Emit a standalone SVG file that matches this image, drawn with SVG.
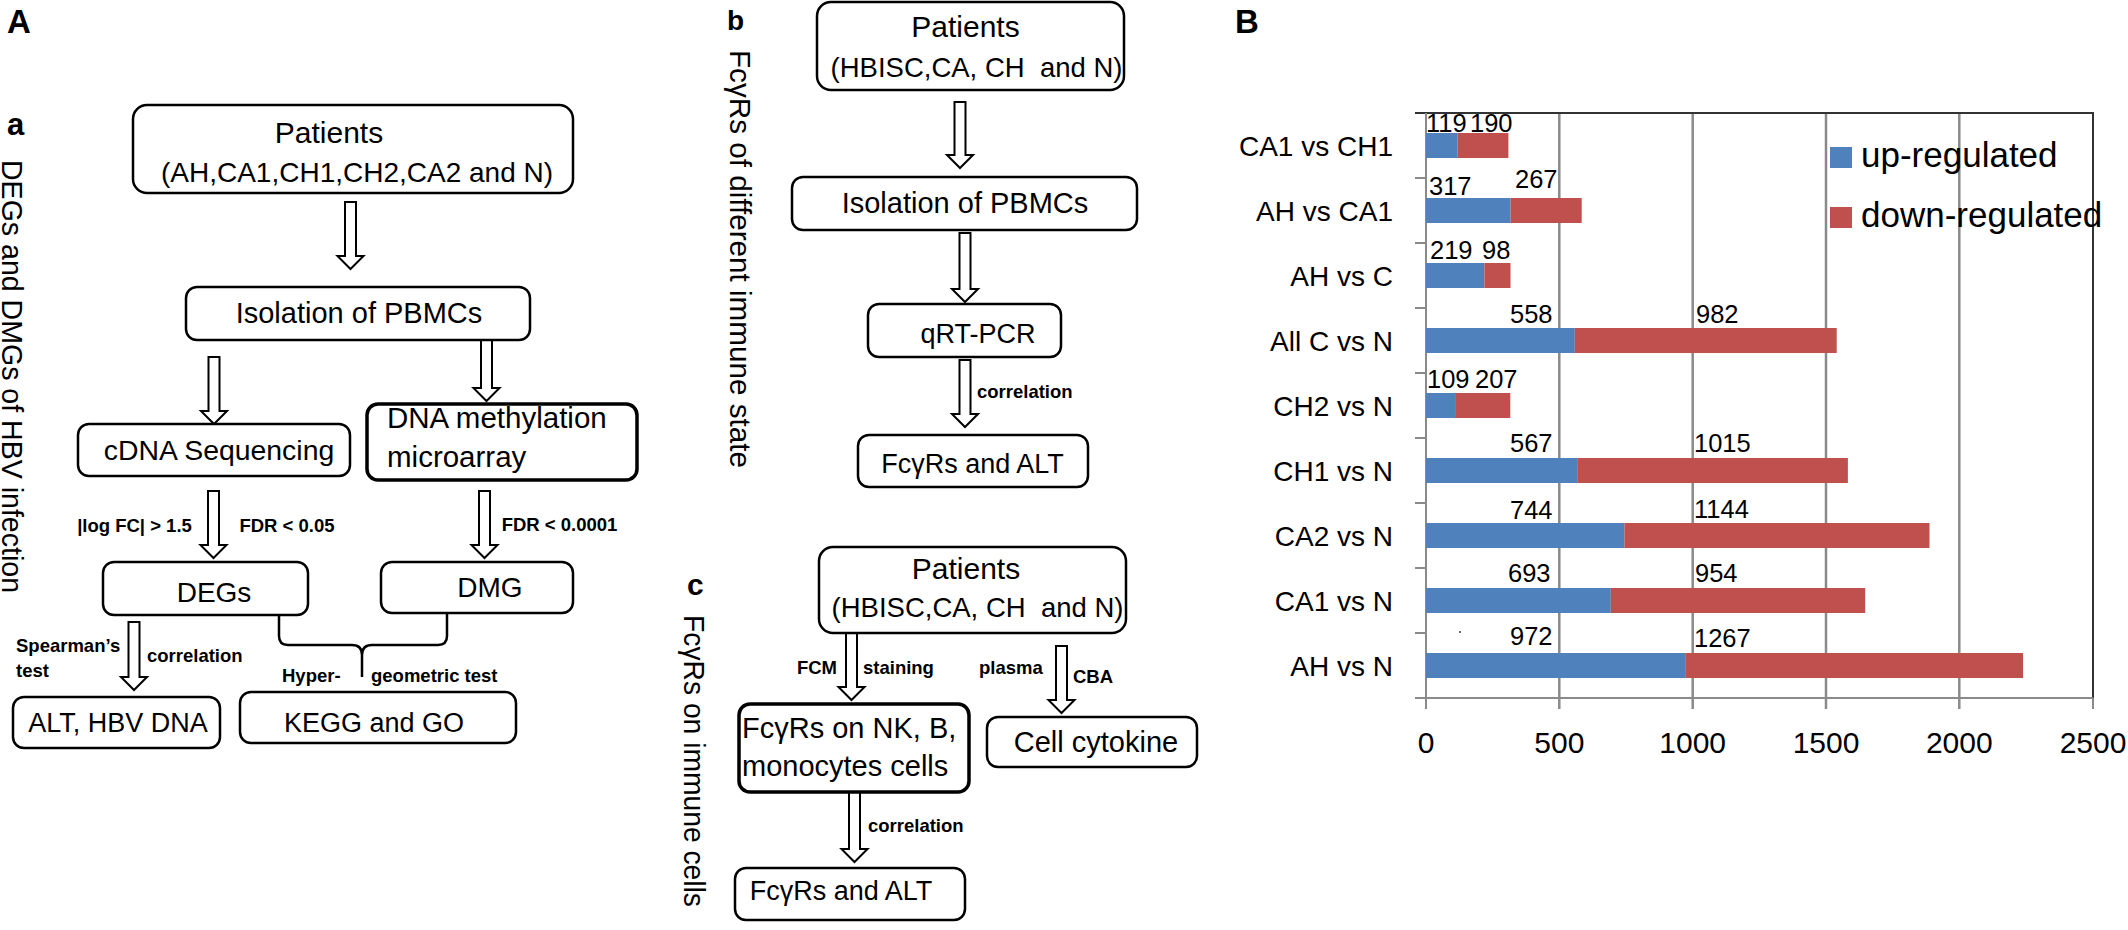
<svg xmlns="http://www.w3.org/2000/svg" width="2128" height="930" viewBox="0 0 2128 930">
<style>
.t{font-family:'Liberation Sans',Arial,sans-serif;fill:#000}
.n{font-size:28px}
.s{font-size:18.5px;font-weight:bold}
.h{font-weight:bold}
.box{fill:#fff;stroke:#000;stroke-width:2.5}
.thick{stroke-width:3.5}
.arr{fill:#fff;stroke:#000;stroke-width:2;stroke-linejoin:miter}
.brace{fill:none;stroke:#000;stroke-width:2.5}
.grid{stroke:#8a8a8a;stroke-width:2.5}
.ax{stroke:#8a8a8a;stroke-width:2;fill:none}
.bd{stroke:#333;stroke-width:2;fill:none}
.up{fill:#4F81BD}
.dn{fill:#C0504D}
.dl{font-size:25.5px}
.cl{font-size:28px;text-anchor:end}
.xl{font-size:30px;text-anchor:middle}
.lg{font-size:35px}
.m{text-anchor:middle}
</style>

<g id="panel-labels">
<text class="t h" x="7" y="33" font-size="33">A</text>
<text class="t h" x="7" y="135" font-size="31">a</text>
<text class="t h" x="727" y="30" font-size="28">b</text>
<text class="t h" x="687" y="595" font-size="30">c</text>
<text class="t h" x="1235" y="33" font-size="33">B</text>
<text class="t" transform="translate(2,160) rotate(90)" font-size="29" textLength="433" lengthAdjust="spacingAndGlyphs">DEGs and DMGs of HBV infection</text>
<text class="t" transform="translate(730,50) rotate(90)" font-size="30" textLength="418" lengthAdjust="spacingAndGlyphs">FcγRs of different immune state</text>
<text class="t" transform="translate(684,615) rotate(90)" font-size="29" textLength="292" lengthAdjust="spacingAndGlyphs">FcγRs on immune cells</text>
</g>

<g id="connectors">
<path class="arr" d="M345,202 L356,202 L356,256 L363.5,256 L350.5,269 L337.5,256 L345,256 Z"/>
<path class="arr" d="M208.5,357 L219.5,357 L219.5,411 L227,411 L214,424 L201,411 L208.5,411 Z"/>
<path class="arr" d="M481,340 L492,340 L492,388 L499.5,388 L486.5,401 L473.5,388 L481,388 Z"/>
<path class="arr" d="M208,491 L219,491 L219,545 L226.5,545 L213.5,558 L200.5,545 L208,545 Z"/>
<path class="arr" d="M479,491 L490,491 L490,545 L497.5,545 L484.5,558 L471.5,545 L479,545 Z"/>
<path class="arr" d="M128.5,622 L139.5,622 L139.5,677 L147,677 L134,690 L121,677 L128.5,677 Z"/>
<path class="brace" d="M279,615 L279,636 Q279,645 288,645 L352,645 Q362,645 362,655 L362,677 M362,655 Q362,645 372,645 L438,645 Q447,645 447,636 L447,613"/>
<path class="arr" d="M954.5,102 L965.5,102 L965.5,155 L973,155 L960,168 L947,155 L954.5,155 Z"/>
<path class="arr" d="M959.5,233 L970.5,233 L970.5,289 L978,289 L965,302 L952,289 L959.5,289 Z"/>
<path class="arr" d="M959.5,360 L970.5,360 L970.5,414 L978,414 L965,427 L952,414 L959.5,414 Z"/>
<path class="arr" d="M846,633 L857,633 L857,687 L864.5,687 L851.5,700 L838.5,687 L846,687 Z"/>
<path class="arr" d="M1056,646 L1067,646 L1067,700 L1074.5,700 L1061.5,713 L1048.5,700 L1056,700 Z"/>
<path class="arr" d="M849,792 L860,792 L860,849 L867.5,849 L854.5,862 L841.5,849 L849,849 Z"/>
<text class="t s m" x="134.5" y="532">|log FC| &gt; 1.5</text>
<text class="t s m" x="287" y="532">FDR &lt; 0.05</text>
<text class="t s m" x="559.5" y="531">FDR &lt; 0.0001</text>
<text class="t s" x="16" y="652">Spearman’s</text>
<text class="t s" x="16" y="677">test</text>
<text class="t s" x="147" y="662">correlation</text>
<text class="t s" x="282" y="682">Hyper-</text>
<text class="t s" x="371" y="682">geometric test</text>
<text class="t s" x="977" y="398">correlation</text>
<text class="t s" x="837" y="674" text-anchor="end">FCM</text>
<text class="t s" x="863" y="674">staining</text>
<text class="t s" x="979" y="674">plasma</text>
<text class="t s" x="1073" y="683">CBA</text>
<text class="t s" x="868" y="832">correlation</text>
</g>

<g id="a-patients">
<rect class="box" x="133" y="105" width="440" height="88" rx="14"/>
<text class="t m" x="329" y="143" font-size="30">Patients</text>
<text class="t m" x="357" y="182" font-size="28">(AH,CA1,CH1,CH2,CA2 and N)</text>
</g>
<g id="a-isolation">
<rect class="box" x="186" y="287" width="344" height="53" rx="11"/>
<text class="t m" x="359" y="323" font-size="29">Isolation of PBMCs</text>
</g>
<g id="a-cdna">
<rect class="box" x="78" y="424" width="272" height="52" rx="11"/>
<text class="t m" x="219" y="460" font-size="28.4">cDNA Sequencing</text>
</g>
<g id="a-methylation">
<rect class="box thick" x="367" y="404" width="270" height="76" rx="11"/>
<text class="t" x="387" y="428" font-size="29.5">DNA methylation</text>
<text class="t" x="387" y="467" font-size="29.5">microarray</text>
</g>
<g id="a-degs">
<rect class="box" x="103" y="562" width="205" height="53" rx="11"/>
<text class="t m n" x="214" y="602">DEGs</text>
</g>
<g id="a-dmg">
<rect class="box" x="381" y="562" width="192" height="51" rx="11"/>
<text class="t m n" x="490" y="597">DMG</text>
</g>
<g id="a-alt">
<rect class="box" x="13" y="697" width="207" height="51" rx="11"/>
<text class="t m" x="118" y="732" font-size="27">ALT, HBV DNA</text>
</g>
<g id="a-kegg">
<rect class="box" x="240" y="692" width="276" height="51" rx="11"/>
<text class="t m" x="374" y="732" font-size="27">KEGG and GO</text>
</g>

<g id="b-patients">
<rect class="box" x="817" y="2" width="307" height="88" rx="14"/>
<text class="t m" x="965.5" y="37" font-size="30">Patients</text>
<text class="t m" x="976.5" y="77" font-size="27.5" xml:space="preserve">(HBISC,CA, CH  and N)</text>
</g>
<g id="b-isolation">
<rect class="box" x="792" y="177" width="345" height="53" rx="11"/>
<text class="t m" x="965" y="213" font-size="29">Isolation of PBMCs</text>
</g>
<g id="b-qrtpcr">
<rect class="box" x="868" y="304" width="193" height="53" rx="11"/>
<text class="t m" x="978" y="343" font-size="27">qRT-PCR</text>
</g>
<g id="b-fcgr-alt">
<rect class="box" x="858" y="435" width="230" height="52" rx="11"/>
<text class="t m" x="972.5" y="473" font-size="27">FcγRs and ALT</text>
</g>

<g id="c-patients">
<rect class="box" x="819" y="547" width="307" height="86" rx="14"/>
<text class="t m" x="966" y="579" font-size="30">Patients</text>
<text class="t m" x="977.5" y="617" font-size="27.5" xml:space="preserve">(HBISC,CA, CH  and N)</text>
</g>
<g id="c-fcgr-cells">
<rect class="box thick" x="739" y="704" width="230" height="88" rx="11"/>
<text class="t" x="742" y="738" font-size="29">FcγRs on NK, B,</text>
<text class="t" x="742" y="776" font-size="29">monocytes cells</text>
</g>
<g id="c-cytokine">
<rect class="box" x="987" y="717" width="210" height="50" rx="11"/>
<text class="t m" x="1096" y="752" font-size="29">Cell cytokine</text>
</g>
<g id="c-fcgr-alt">
<rect class="box" x="735" y="868" width="230" height="52" rx="11"/>
<text class="t m" x="841" y="900" font-size="27">FcγRs and ALT</text>
</g>

<g id="chart">
<line class="grid" x1="1559.3" y1="113" x2="1559.3" y2="709"/>
<line class="grid" x1="1692.7" y1="113" x2="1692.7" y2="709"/>
<line class="grid" x1="1826" y1="113" x2="1826" y2="709"/>
<line class="grid" x1="1959.3" y1="113" x2="1959.3" y2="709"/>
<path class="bd" d="M1415,113 L2093,113 L2093,698"/>
<path class="ax" d="M1426,113 L1426,709 M1415,698 L2093,698 M2093,698 L2093,709"/>
<path class="ax" d="M1415,178 L1426,178 M1415,243 L1426,243 M1415,308 L1426,308 M1415,373 L1426,373 M1415,438 L1426,438 M1415,503 L1426,503 M1415,568 L1426,568 M1415,633 L1426,633"/>
<rect class="up" x="1426" y="133" width="31.7" height="25"/><rect class="dn" x="1457.7" y="133" width="50.7" height="25"/>
<rect class="up" x="1426" y="198" width="84.5" height="25"/><rect class="dn" x="1510.5" y="198" width="71.2" height="25"/>
<rect class="up" x="1426" y="263" width="58.4" height="25"/><rect class="dn" x="1484.4" y="263" width="26.1" height="25"/>
<rect class="up" x="1426" y="328" width="148.8" height="25"/><rect class="dn" x="1574.8" y="328" width="261.9" height="25"/>
<rect class="up" x="1426" y="393" width="29.1" height="25"/><rect class="dn" x="1455.1" y="393" width="55.2" height="25"/>
<rect class="up" x="1426" y="458" width="151.2" height="25"/><rect class="dn" x="1577.2" y="458" width="270.7" height="25"/>
<rect class="up" x="1426" y="523" width="198.4" height="25"/><rect class="dn" x="1624.4" y="523" width="305.1" height="25"/>
<rect class="up" x="1426" y="588" width="184.8" height="25"/><rect class="dn" x="1610.8" y="588" width="254.4" height="25"/>
<rect class="up" x="1426" y="653" width="259.2" height="25"/><rect class="dn" x="1685.2" y="653" width="337.9" height="25"/>
<circle cx="1460" cy="632" r="1" fill="#333"/>
<text class="t dl" x="1426" y="132">119</text><text class="t dl" x="1470" y="132">190</text>
<text class="t dl" x="1429" y="195">317</text><text class="t dl" x="1515" y="188">267</text>
<text class="t dl" x="1430" y="259">219</text><text class="t dl" x="1482" y="259">98</text>
<text class="t dl" x="1510" y="323">558</text><text class="t dl" x="1696" y="323">982</text>
<text class="t dl" x="1427" y="388">109</text><text class="t dl" x="1475" y="388">207</text>
<text class="t dl" x="1510" y="452">567</text><text class="t dl" x="1694" y="452">1015</text>
<text class="t dl" x="1510" y="519">744</text><text class="t dl" x="1694" y="518">1144</text>
<text class="t dl" x="1508" y="582">693</text><text class="t dl" x="1695" y="582">954</text>
<text class="t dl" x="1510" y="645">972</text><text class="t dl" x="1694" y="647">1267</text>
<text class="t cl" x="1393" y="155.5">CA1 vs CH1</text>
<text class="t cl" x="1393" y="220.5">AH vs CA1</text>
<text class="t cl" x="1393" y="285.5">AH vs C</text>
<text class="t cl" x="1393" y="350.5">All C vs N</text>
<text class="t cl" x="1393" y="415.5">CH2 vs N</text>
<text class="t cl" x="1393" y="480.5">CH1 vs N</text>
<text class="t cl" x="1393" y="545.5">CA2 vs N</text>
<text class="t cl" x="1393" y="610.5">CA1 vs N</text>
<text class="t cl" x="1393" y="675.5">AH vs N</text>
<text class="t xl" x="1426" y="753">0</text>
<text class="t xl" x="1559.3" y="753">500</text>
<text class="t xl" x="1692.7" y="753">1000</text>
<text class="t xl" x="1826" y="753">1500</text>
<text class="t xl" x="1959.3" y="753">2000</text>
<text class="t xl" x="2093" y="753">2500</text>
<rect class="up" x="1830" y="147" width="22" height="21"/>
<text class="t lg" x="1861" y="167">up-regulated</text>
<rect class="dn" x="1830" y="207" width="22" height="21"/>
<text class="t lg" x="1861" y="227">down-regulated</text>
</g>
</svg>
